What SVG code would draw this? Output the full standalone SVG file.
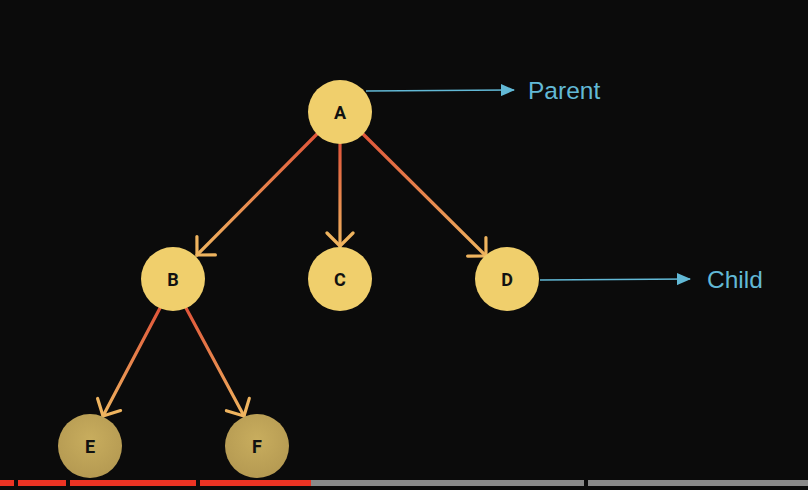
<svg xmlns="http://www.w3.org/2000/svg" width="808" height="490" viewBox="0 0 808 490">
  <style>
    .node-top { fill: #f0cf6c; }
    .node-bot { fill: url(#gBot); }
    .lbl { font-family: Roboto, "Liberation Sans", sans-serif; font-weight: bold; font-size: 18px; fill: #111; text-anchor: middle; }
    .edge { stroke-width: 3.2; fill: none; stroke-linecap: round; }
    .blue { stroke: #62b9d6; stroke-width: 1.5; fill: none; }
    .blabel { font-family: "Liberation Sans", Arial, sans-serif; font-size: 24.5px; fill: #62b9d6; }
  </style>
  <defs>
    <radialGradient id="gBot" cx="0.5" cy="0.4" r="0.6">
      <stop offset="0" stop-color="#c8ad5e"/>
      <stop offset="1" stop-color="#b59a52"/>
    </radialGradient>
    <marker id="vhead" viewBox="-16 -15 19 30" refX="0" refY="0" markerWidth="19" markerHeight="30" markerUnits="userSpaceOnUse" orient="auto">
      <path d="M-13,-13 L0,0 L-13,13" fill="none" stroke="#efb45f" stroke-width="3.2" stroke-linecap="round" stroke-linejoin="round"/>
    </marker>
    <marker id="bhead" viewBox="0 0 14 12" refX="13" refY="6" markerWidth="14" markerHeight="12" markerUnits="userSpaceOnUse" orient="auto">
      <path d="M0,0 L14,6 L0,12 Z" fill="#62b9d6"/>
    </marker>
    <linearGradient id="gAB" gradientUnits="userSpaceOnUse" x1="318" y1="133" x2="197" y2="255">
      <stop offset="0" stop-color="#e0553a"/><stop offset="1" stop-color="#efb45f"/>
    </linearGradient>
    <linearGradient id="gAC" gradientUnits="userSpaceOnUse" x1="340" y1="144" x2="340" y2="246">
      <stop offset="0" stop-color="#e0553a"/><stop offset="1" stop-color="#efb45f"/>
    </linearGradient>
    <linearGradient id="gAD" gradientUnits="userSpaceOnUse" x1="362" y1="133" x2="486" y2="256">
      <stop offset="0" stop-color="#e0553a"/><stop offset="1" stop-color="#efb45f"/>
    </linearGradient>
    <linearGradient id="gBE" gradientUnits="userSpaceOnUse" x1="160" y1="308" x2="103" y2="416">
      <stop offset="0" stop-color="#e0553a"/><stop offset="1" stop-color="#efb45f"/>
    </linearGradient>
    <linearGradient id="gBF" gradientUnits="userSpaceOnUse" x1="186" y1="308" x2="244" y2="416">
      <stop offset="0" stop-color="#e0553a"/><stop offset="1" stop-color="#efb45f"/>
    </linearGradient>
  </defs>
  <rect width="808" height="490" fill="#0b0b0b"/>

  <g id="connectors">
    <line class="edge" x1="318" y1="133" x2="197" y2="255" stroke="url(#gAB)" marker-end="url(#vhead)"/>
    <line class="edge" x1="340" y1="144" x2="340" y2="246" stroke="url(#gAC)" marker-end="url(#vhead)"/>
    <line class="edge" x1="362" y1="133" x2="486" y2="256" stroke="url(#gAD)" marker-end="url(#vhead)"/>
    <line class="edge" x1="160" y1="308" x2="103" y2="416" stroke="url(#gBE)" marker-end="url(#vhead)"/>
    <line class="edge" x1="186" y1="308" x2="244" y2="416" stroke="url(#gBF)" marker-end="url(#vhead)"/>
    <line class="blue" x1="366" y1="91" x2="514" y2="90" marker-end="url(#bhead)"/>
    <line class="blue" x1="540" y1="280" x2="690" y2="279" marker-end="url(#bhead)"/>
  </g>

  <g id="node-A"><circle class="node-top" cx="340" cy="112" r="32"/><text class="lbl" x="340" y="118.5">A</text></g>
  <g id="node-B"><circle class="node-top" cx="173" cy="279" r="32"/><text class="lbl" x="173" y="285.5">B</text></g>
  <g id="node-C"><circle class="node-top" cx="340" cy="279" r="32"/><text class="lbl" x="340" y="285.5">C</text></g>
  <g id="node-D"><circle class="node-top" cx="507" cy="279" r="32"/><text class="lbl" x="507" y="285.5">D</text></g>
  <g id="node-E"><circle class="node-bot" cx="90" cy="446" r="32"/><text class="lbl" x="90" y="452.5">E</text></g>
  <g id="node-F"><circle class="node-bot" cx="257" cy="446" r="32"/><text class="lbl" x="257" y="452.5">F</text></g>

  <g id="label-parent"><text class="blabel" x="528" y="99">Parent</text></g>
  <g id="label-child"><text class="blabel" x="707" y="288">Child</text></g>

  <g id="progress-bar">
    <rect x="0" y="480" width="14" height="6" fill="#ea3323"/>
    <rect x="18" y="480" width="48" height="6" fill="#ea3323"/>
    <rect x="70" y="480" width="126" height="6" fill="#ea3323"/>
    <rect x="200" y="480" width="111" height="6" fill="#ea3323"/>
    <rect x="311" y="480" width="273" height="6" fill="#8a8a8a"/>
    <rect x="588" y="480" width="220" height="6" fill="#8a8a8a"/>
  </g>
</svg>
